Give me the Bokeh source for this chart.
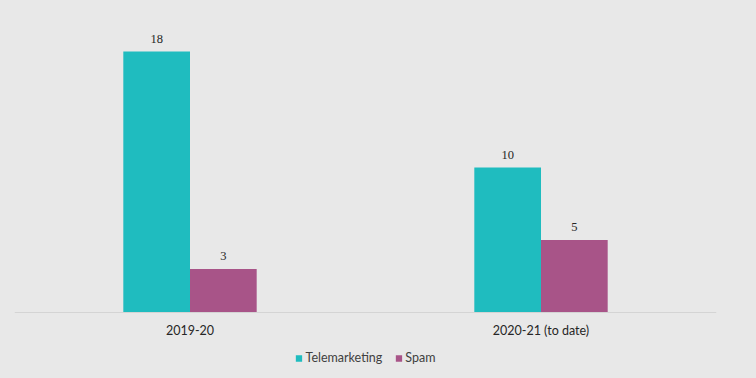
from bokeh.plotting import figure
from bokeh.models import ColumnDataSource, FactorRange, LabelSet, Legend, LegendItem, Range1d
from bokeh.transform import dodge
from bokeh.embed import file_html
from bokeh.resources import INLINE

categories = ["2019-20", "2020-21 (to date)"]
telemarketing = [18, 10]
spam = [3, 5]

BG = "#e8e8e8"
TEAL = "#1fbcbf"
PURPLE = "#a85488"
FONT = "Lato"

src = ColumnDataSource(dict(cat=categories, tele=telemarketing, spam=spam,
                            tele_lbl=[str(v) for v in telemarketing],
                            spam_lbl=[str(v) for v in spam]))

FH = 346
PX_PER_UNIT = 14.5
p = figure(frame_width=702, frame_height=FH, x_range=FactorRange(*categories),
           y_range=Range1d(20 - FH / PX_PER_UNIT, 20),
           output_backend="svg", toolbar_location=None, y_axis_location=None,
           min_border_left=14, min_border_right=40, min_border_top=22, min_border_bottom=0)
p.x_range.range_padding = 0
p.background_fill_color = BG
p.border_fill_color = BG
p.outline_line_color = None
p.grid.visible = False

w = 0.19
r1 = p.vbar(x=dodge("cat", -w / 2, range=p.x_range), top="tele", width=w, source=src,
            fill_color=TEAL, line_color=None)
r2 = p.vbar(x=dodge("cat", w / 2, range=p.x_range), top="spam", width=w, source=src,
            fill_color=PURPLE, line_color=None)

for xo, col, lbl in [(-w / 2, "tele", "tele_lbl"), (w / 2, "spam", "spam_lbl")]:
    p.add_layout(LabelSet(x=dodge("cat", xo, range=p.x_range), y=col, text=lbl, source=src,
                          text_align="center", text_baseline="bottom", y_offset=9,
                          text_font=FONT, text_font_size="12.5px", text_color="#262626"))

ax = p.xaxis[0]
ax.fixed_location = 0
ax.axis_line_color = "#d4d4d4"
ax.major_tick_line_color = None
ax.minor_tick_line_color = None
ax.major_tick_out = 0
ax.major_label_standoff = 10
ax.major_label_text_font = FONT
ax.major_label_text_font_size = "12.5px"
ax.major_label_text_color = "#262626"

legend = Legend(items=[LegendItem(label="Telemarketing", renderers=[r1]),
                       LegendItem(label="Spam", renderers=[r2])],
                orientation="horizontal", location="bottom_center",
                background_fill_alpha=0, border_line_color=None,
                padding=0, margin=3, spacing=12, label_standoff=3,
                glyph_width=8, glyph_height=8, label_height=14,
                label_text_font=FONT, label_text_font_size="12.5px", label_text_color="#404040")
p.add_layout(legend, "center")

html = file_html(p, INLINE)
html = html.replace("<head>", "<head><style>html,body{margin:0;padding:0;background:%s;overflow:hidden}</style>" % BG, 1)
open("out.html", "w").write(html)
